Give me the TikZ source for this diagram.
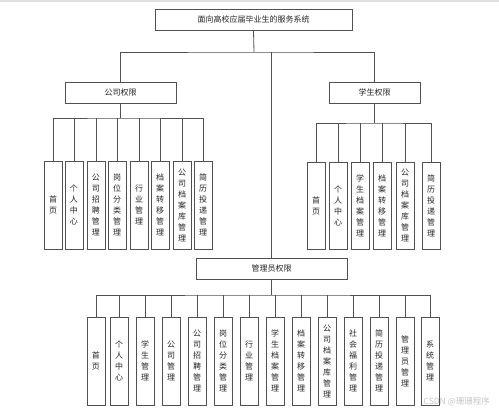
\documentclass[tikz,border=0pt]{standalone}
\usepackage{fontspec}
\newfontfamily\cjk{Noto Sans CJK SC}
\definecolor{linec}{HTML}{505050}
\definecolor{txtc}{HTML}{252525}
\begin{document}
\begin{tikzpicture}[x=1pt,y=-1pt,
  conn/.style={draw=linec, line width=0.8pt},
  box/.style={draw=linec, line width=0.8pt, fill=white, inner sep=0pt, text=txtc,
    font=\cjk\fontsize{8}{11}\selectfont, align=center},
  hbox/.style={box, minimum height=21pt},
  vbox/.style={box, minimum width=18pt, minimum height=88pt}]
\useasboundingbox (0,0) rectangle (499,412);
\fill[white] (0,0) rectangle (499,412);
\draw[gray!25, line width=1.2pt] (0,1) -- (499,1);

% top level
\node[hbox, minimum width=197pt] (top) at (253.5,19.5) {面向高校应届毕业生的服务系统};
\node[hbox, minimum width=111pt] (comp) at (120.5,92.5) {公司权限};
\node[hbox, minimum width=91pt] (stu) at (374.5,92.5) {学生权限};
\node[hbox, minimum width=151pt] (adm) at (271.5,268.5) {管理员权限};

\coordinate (bus0) at (254,52);
\draw[conn] (top.south) -- (bus0);
\draw[conn] (comp.north) |- (bus0) -| (stu.north);
\draw[conn] (adm.north) -- (adm.north |- bus0);

% company children
\foreach \i/\x/\t in {1/53/首\\页, 2/74/个\\人\\中\\心, 3/96/公\\司\\招\\聘\\管\\理, 4/117/岗\\位\\分\\类\\管\\理,
  5/139/行\\业\\管\\理, 6/160/档\\案\\转\\移\\管\\理, 7/182/公\\司\\档\\案\\库\\管\\理, 8/203/简\\历\\投\\递\\管\\理}
  \node[vbox] (c\i) at (\x,205) {\t};
\coordinate (busc) at (120.5,118);
\draw[conn] (comp.south) -- (busc);
\draw[conn] (c1.north) |- (busc) -| (c8.north);
\foreach \i in {2,...,7} \draw[conn] (c\i.north) -- (c\i.north |- busc);

% student children
\foreach \i/\x/\t in {1/316/首\\页, 2/338/个\\人\\中\\心, 3/360/学\\生\\档\\案\\管\\理, 4/382/档\\案\\转\\移\\管\\理,
  5/405/公\\司\\档\\案\\库\\管\\理, 6/431/简\\历\\投\\递\\管\\理}
  \node[vbox, minimum height=87pt] (s\i) at (\x,205.5) {\t};
\coordinate (buss) at (374.5,123);
\draw[conn] (stu.south) -- (buss);
\draw[conn] (s1.north) |- (buss) -| (s6.north);
\foreach \i in {2,...,5} \draw[conn] (s\i.north) -- (s\i.north |- buss);

% admin children
\foreach \i/\x/\t in {1/96/首\\页, 2/119/个\\人\\中\\心, 3/145/学\\生\\管\\理, 4/171/公\\司\\管\\理,
  5/197/公\\司\\招\\聘\\管\\理, 6/223/岗\\位\\分\\类\\管\\理, 7/249/行\\业\\管\\理, 8/275/学\\生\\档\\案\\管\\理,
  9/301/档\\案\\转\\移\\管\\理, 10/327/公\\司\\档\\案\\库\\管\\理, 11/353/社\\会\\福\\利\\管\\理,
  12/379/简\\历\\投\\递\\管\\理, 13/405/管\\理\\员\\管\\理, 14/430/系\\统\\管\\理}
  \node[vbox] (a\i) at (\x,361) {\t};
\coordinate (busa) at (271.5,295);
\draw[conn] (adm.south) -- (busa);
\draw[conn] (a1.north) |- (busa) -| (a14.north);
\foreach \i in {2,...,13} \draw[conn] (a\i.north) -- (a\i.north |- busa);

% watermark
\node[text=gray!45, font=\cjk\fontsize{8.5}{10}\selectfont, anchor=east, inner sep=0pt] (wm) at (490,402) {CSDN @珊珊程序};
\end{tikzpicture}
\end{document}
